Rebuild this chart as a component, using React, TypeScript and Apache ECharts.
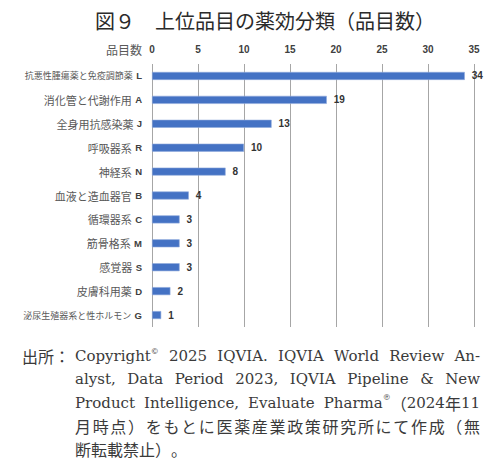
import React, { useEffect, useRef } from "react";
import * as echarts from "echarts";

const categoryNames = [
  "抗悪性腫瘍薬と免疫調節薬",
  "消化管と代謝作用",
  "全身用抗感染薬",
  "呼吸器系",
  "神経系",
  "血液と造血器官",
  "循環器系",
  "筋骨格系",
  "感覚器",
  "皮膚科用薬",
  "泌尿生殖器系と性ホルモン",
];
const categoryCodes = ["L", "A", "J", "R", "N", "B", "C", "M", "S", "D", "G"];
const itemCounts = [34, 19, 13, 10, 8, 4, 3, 3, 3, 2, 1];
const axisTicks = { min: 0, max: 35, interval: 5 };

const titleText = "図９　上位品目の薬効分類（品目数）";
const axisName = "品目数";
const sourcePrefix = "出所：";
type Tok = { t: string; sup?: boolean };
const sourceLines: Tok[][] = [
  [{ t: "Copyright" }, { t: "©", sup: true }, { t: " 2025 IQVIA. IQVIA World Review An-" }],
  [{ t: "alyst, Data Period 2023, IQVIA Pipeline & New" }],
  [{ t: "Product Intelligence, Evaluate Pharma" }, { t: "®", sup: true }, { t: "（2024年11" }],
  [{ t: "月時点）をもとに医薬産業政策研究所にて作成（無" }],
  [{ t: "断転載禁止）。" }],
];

const LAT_FONT = "'DejaVu Serif', serif";
const CJK_FONT = "'Noto Sans CJK JP', sans-serif";
const LAT_SIZE = 15;
const CJK_SIZE = 16;
const SUP_SIZE = 8;
const FN_COLOR = "#3a3a3a";

const isCJK = (ch: string) => ch.charCodeAt(0) >= 0x2e80;

function buildFootnote(): any[] {
  const canvas = document.createElement("canvas");
  const ctx = canvas.getContext("2d")!;
  type Run = { t: string; font: string; size: number; dy: number };
  const fontOf = (r: { font: string; size: number }) => `${r.size}px ${r.font}`;
  const measure = (r: Run) => {
    ctx.font = fontOf(r);
    return ctx.measureText(r.t).width;
  };
  const toRuns = (s: string, sup?: boolean): Run[] => {
    if (sup) return [{ t: s, font: LAT_FONT, size: SUP_SIZE, dy: -5 }];
    const runs: Run[] = [];
    for (const ch of Array.from(s)) {
      const c = isCJK(ch);
      const last = runs[runs.length - 1];
      const font = c ? CJK_FONT : LAT_FONT;
      if (last && last.font === font) last.t += ch;
      else runs.push({ t: ch, font, size: c ? CJK_SIZE : LAT_SIZE, dy: 0 });
    }
    return runs;
  };
  const x0 = 75;
  const x1 = 480;
  const y0 = 356;
  const lh = 23.3;
  const els: any[] = [];
  els.push({
    type: "text",
    x: 22,
    y: y0,
    style: { text: sourcePrefix, font: `${CJK_SIZE}px ${CJK_FONT}`, fill: FN_COLOR, verticalAlign: "middle" },
  });
  sourceLines.forEach((line, li) => {
    const y = y0 + li * lh;
    const words: Run[][] = [];
    const cjkLine = line.length === 1 && !/[A-Za-z ]/.test(line[0].t);
    if (cjkLine) {
      for (const ch of Array.from(line[0].t)) words.push(toRuns(ch));
    } else {
      let cur: Run[] = [];
      line.forEach((tok) => {
        if (tok.sup) {
          cur.push(...toRuns(tok.t, true));
          return;
        }
        const parts = tok.t.split(" ");
        parts.forEach((p, i) => {
          if (i > 0) {
            if (cur.length) words.push(cur);
            cur = [];
          }
          if (p) cur.push(...toRuns(p));
        });
      });
      if (cur.length) words.push(cur);
    }
    const widths = words.map((w) => w.reduce((a, r) => a + measure(r), 0));
    const total = widths.reduce((a, b) => a + b, 0);
    const last = li === sourceLines.length - 1;
    const gaps = words.length - 1;
    const spaceW = cjkLine ? 0 : measure({ t: " ", font: LAT_FONT, size: LAT_SIZE, dy: 0 });
    const gap = last || gaps === 0 ? spaceW : (x1 - x0 - total) / gaps;
    let x = x0;
    words.forEach((w) => {
      w.forEach((r) => {
        els.push({
          type: "text",
          x,
          y: y + r.dy,
          style: { text: r.t, font: fontOf(r), fill: FN_COLOR, verticalAlign: "middle" },
        });
        x += measure(r);
      });
      x += gap;
    });
  });
  return els;
}

export default function App() {
  const ref = useRef<HTMLDivElement>(null);
  useEffect(() => {
    document.body.style.margin = "0";
    const chart = echarts.init(ref.current!, undefined, { renderer: "svg" });
    const option: any = {
      animation: false,
      backgroundColor: "#ffffff",
      title: {
        text: titleText,
        left: 90,
        top: 5,
        textStyle: {
          fontSize: 20,
          fontWeight: "normal",
          color: "#2b2b2b",
          fontFamily: CJK_FONT,
        },
      },
      grid: { left: 152, right: 26, top: 64, bottom: 141 },
      xAxis: {
        type: "value",
        position: "top",
        min: axisTicks.min,
        max: axisTicks.max,
        interval: axisTicks.interval,
        axisLine: { show: false },
        axisTick: { show: false },
        axisLabel: {
          fontSize: 10,
          fontWeight: "bold",
          color: "#404040",
          margin: 10,
          fontFamily: "'Liberation Sans', sans-serif",
        },
        splitLine: { show: true, lineStyle: { color: "#a6a6a6", width: 1 } },
      },
      yAxis: {
        type: "category",
        inverse: true,
        data: categoryNames.map((n, i) => `${n}|${categoryCodes[i]}`),
        axisLine: { show: false },
        axisTick: { show: false },
        axisLabel: {
          margin: 10,
          formatter: (v: string) => {
            const [n, c] = v.split("|");
            const small = n.length > 10;
            return `{${small ? "s" : "n"}|${n}} {c|${c}}`;
          },
          rich: {
            n: { fontSize: 11, color: "#595959", fontFamily: CJK_FONT },
            s: { fontSize: 9, color: "#595959", fontFamily: CJK_FONT },
            c: { fontSize: 9.5, fontWeight: "bold", color: "#404040", fontFamily: "'Liberation Sans', sans-serif" },
          },
        },
      },
      series: [
        {
          type: "bar",
          data: itemCounts,
          barWidth: 8,
          itemStyle: { color: "#4472c4", borderColor: "#8fa9dc", borderWidth: 0.6 },
          label: {
            show: true,
            position: "right",
            distance: 7,
            fontSize: 10,
            fontWeight: "bold",
            color: "#333333",
            fontFamily: "'Liberation Sans', sans-serif",
          },
        },
      ],
      graphic: [
        {
          type: "text",
          x: 142,
          y: 49,
          style: {
            text: axisName,
            font: `12px ${CJK_FONT}`,
            fill: "#595959",
            align: "right",
            verticalAlign: "middle",
          },
        },
        ...buildFootnote(),
      ],
    };
    chart.setOption(option);
    return () => chart.dispose();
  }, []);
  return <div ref={ref} style={{ width: 500, height: 468 }} />;
}
